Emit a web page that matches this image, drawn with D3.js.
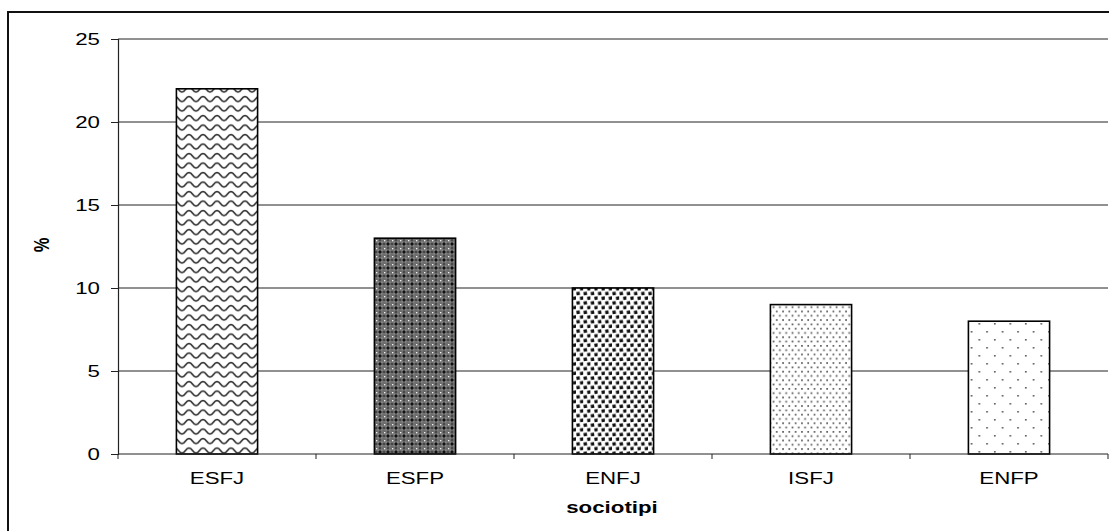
<!DOCTYPE html>
<html>
<head>
<meta charset="utf-8">
<script src="https://cdn.jsdelivr.net/npm/d3@7"></script>
<style>
  html, body { margin: 0; padding: 0; background: #fff; }
  svg { display: block; font-family: "Liberation Sans", Arial, sans-serif; }
</style>
</head>
<body>
<svg id="chart" width="1109" height="531"></svg>
<script>
// Share of respondents by socionic type
const categories = ["ESFJ", "ESFP", "ENFJ", "ISFJ", "ENFP"];
const values = [22, 13, 10, 9, 8];
const yTicks = [0, 5, 10, 15, 20, 25];
const fills = ["wave", "lattice", "confetti", "densedots", "sparsedots"];

const svg = d3.select("#chart");
const W = 1109, H = 531;
const plotLeft = 118, plotRight = 1108, plotTop = 39, plotBottom = 454;
const fontSize = 16.5, stretch = 1.35; // text is drawn wide

// Outer frame (right and bottom edges run past the page)
svg.append("rect")
  .attr("x", 8).attr("y", 12)
  .attr("width", W + 20).attr("height", H + 20)
  .attr("fill", "#fff").attr("stroke", "#111").attr("stroke-width", 2);

// Fill patterns
const defs = svg.append("defs");

// wavy lines
const wave = defs.append("pattern").attr("id", "wave")
  .attr("patternUnits", "userSpaceOnUse").attr("width", 14).attr("height", 9.5);
wave.append("rect").attr("width", 14).attr("height", 9.5).attr("fill", "#fff");
wave.append("path")
  .attr("d", "M-3.5,4 Q0,9 3.5,4 Q7,-1 10.5,4 Q14,9 17.5,4")
  .attr("fill", "none").attr("stroke", "#333").attr("stroke-width", 1.7);

// dark lattice
const lat = defs.append("pattern").attr("id", "lattice")
  .attr("patternUnits", "userSpaceOnUse").attr("width", 8).attr("height", 8);
lat.append("rect").attr("width", 8).attr("height", 8).attr("fill", "#6e6e6e");
lat.append("path").attr("d", "M2.6,4 h2.8 M4,2.6 v2.8").attr("stroke", "#0a0a0a").attr("stroke-width", 1.5);
lat.append("path").attr("d", "M0,4 h1.2 M6.8,4 h1.2 M4,0 v1.2 M4,6.8 v1.2").attr("stroke", "#222").attr("stroke-width", 1);
lat.append("rect").attr("x", 0).attr("y", 0).attr("width", 1.3).attr("height", 1.3).attr("fill", "#f4f4f4");
[[1.6, 1.6], [5.4, 5.4], [5.4, 1.6], [1.6, 5.4]].forEach(([px, py]) =>
  lat.append("rect").attr("x", px).attr("y", py).attr("width", 1).attr("height", 1).attr("fill", "#aaa"));

// staggered squares
const conf = defs.append("pattern").attr("id", "confetti")
  .attr("patternUnits", "userSpaceOnUse").attr("width", 7.2).attr("height", 9.4);
conf.append("rect").attr("width", 7.2).attr("height", 9.4).attr("fill", "#fff");
conf.append("rect").attr("x", 0.4).attr("y", 0.4).attr("width", 3.4).attr("height", 3.4).attr("fill", "#111")
  .attr("transform", "rotate(-8 2 2)");
conf.append("rect").attr("x", 4).attr("y", 5.1).attr("width", 3.4).attr("height", 3.4).attr("fill", "#111")
  .attr("transform", "rotate(-8 5.6 6.8)");

// dense dots
const dd = defs.append("pattern").attr("id", "densedots")
  .attr("patternUnits", "userSpaceOnUse").attr("width", 6.3).attr("height", 8.6);
dd.append("rect").attr("width", 6.3).attr("height", 8.6).attr("fill", "#fff");
dd.append("rect").attr("x", 1).attr("y", 1).attr("width", 1.7).attr("height", 1.7).attr("fill", "#5a5a5a");
dd.append("rect").attr("x", 4.15).attr("y", 5.3).attr("width", 1.7).attr("height", 1.7).attr("fill", "#5a5a5a");

// sparse dots
const sd = defs.append("pattern").attr("id", "sparsedots")
  .attr("patternUnits", "userSpaceOnUse").attr("width", 15.5).attr("height", 16);
sd.append("rect").attr("width", 15.5).attr("height", 16).attr("fill", "#fff");
sd.append("rect").attr("x", 2).attr("y", 3).attr("width", 1.6).attr("height", 1.6).attr("fill", "#555");
sd.append("rect").attr("x", 9.75).attr("y", 11).attr("width", 1.6).attr("height", 1.6).attr("fill", "#555");

// Scales
const x = d3.scaleBand().domain(categories).range([plotLeft, plotRight]).paddingInner(0.59).paddingOuter(0.295);
const y = d3.scaleLinear().domain([0, 25]).range([plotBottom, plotTop]);

// Gridlines
svg.append("g")
  .selectAll("line")
  .data(yTicks.filter(d => d > 0))
  .join("line")
  .attr("x1", plotLeft).attr("x2", plotRight)
  .attr("y1", d => y(d)).attr("y2", d => y(d))
  .attr("stroke", "#222").attr("stroke-width", 1);

// Bars
svg.append("g")
  .selectAll("rect")
  .data(categories)
  .join("rect")
  .attr("x", d => x(d))
  .attr("y", (d, i) => y(values[i]))
  .attr("width", x.bandwidth())
  .attr("height", (d, i) => y(0) - y(values[i]))
  .attr("fill", (d, i) => `url(#${fills[i]})`)
  .attr("stroke", "#000").attr("stroke-width", 1.6);

// Y axis
const yAxis = svg.append("g")
  .attr("transform", `translate(${plotLeft},0)`)
  .call(d3.axisLeft(y).tickValues(yTicks).tickSize(7).tickPadding(11).tickFormat(d3.format("d")));
yAxis.select(".domain").attr("stroke", "#222").attr("stroke-width", 1.2);
yAxis.selectAll(".tick line").attr("stroke", "#222");
yAxis.selectAll("text")
  .attr("x", 0)
  .attr("transform", `translate(-18,0) scale(${stretch},1)`)
  .attr("font-size", fontSize).attr("fill", "#000")
  .attr("font-family", "Liberation Sans, Arial, sans-serif");

// X axis with tick marks at category boundaries
const xAxis = svg.append("g").attr("transform", `translate(0,${plotBottom})`);
xAxis.append("line").attr("x1", plotLeft).attr("x2", plotRight).attr("stroke", "#222").attr("stroke-width", 1.2);
const bounds = d3.range(categories.length + 1).map(i => plotLeft + i * x.step());
xAxis.selectAll("line.b").data(bounds).join("line").attr("class", "b")
  .attr("x1", d => d).attr("x2", d => d).attr("y1", 0).attr("y2", 5)
  .attr("stroke", "#222");
xAxis.selectAll("text").data(categories).join("text")
  .attr("transform", d => `translate(${x(d) + x.bandwidth() / 2},30) scale(${stretch},1)`)
  .attr("text-anchor", "middle")
  .attr("font-size", fontSize)
  .attr("fill", "#000")
  .text(d => d);

// Axis titles
svg.append("text")
  .attr("transform", `translate(612,513) scale(${stretch},1)`)
  .attr("text-anchor", "middle")
  .attr("font-size", fontSize).attr("font-weight", "bold")
  .text("sociotipi");

svg.append("text")
  .attr("transform", "translate(49,245) rotate(-90) scale(1,1.35)")
  .attr("text-anchor", "middle")
  .attr("font-size", fontSize).attr("font-weight", "bold")
  .text("%");
</script>
</body>
</html>
